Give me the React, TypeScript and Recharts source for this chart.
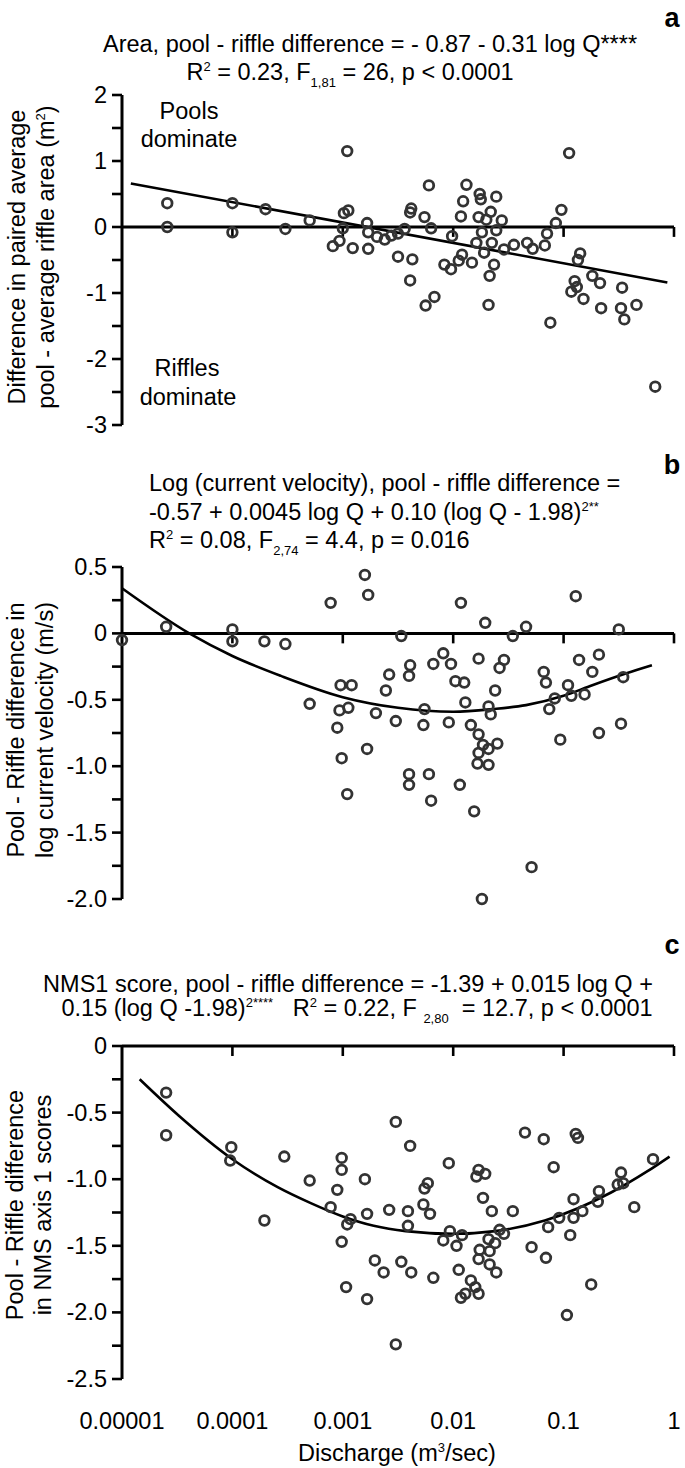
import React from 'react'
import { ComposedChart, Scatter, Line, XAxis, YAxis, ReferenceLine } from 'recharts'

// x values are log10 of discharge Q (m3/sec); the axis prints them as Q
const decadeTicks = [-5, -4, -3, -2, -1, 0]
const decadeLabels = ['0.00001', '0.0001', '0.001', '0.01', '0.1', '1']

// a - area, pool - riffle difference (m2)
const areaLogQ = [
    -4.59, -4.59, -4.0, -4.0, -3.7, -3.52, -3.3, -2.99, -2.95, -3.0,
    -3.03, -3.09, -2.91, -2.78, -2.77, -2.77, -2.96, -2.69, -2.62, -2.56,
    -2.5, -2.5, -2.44, -2.39, -2.38, -2.37, -2.39, -2.22, -2.26, -2.2,
    -2.17, -2.25, -2.08, -2.02, -2.01, -1.95, -1.92, -1.83, -1.93, -1.91,
    -1.88, -1.79, -1.76, -1.75, -1.77, -1.74, -1.7, -1.66, -1.72, -1.65,
    -1.61, -1.61, -1.56, -1.63, -1.67, -1.68, -1.54, -1.45, -1.33, -1.28,
    -1.17, -1.15, -1.07, -1.02, -0.95, -1.12, -0.85, -0.87, -0.9, -0.93,
    -0.88, -0.82, -0.74, -0.67, -0.66, -0.47, -0.48, -0.45, -0.34, -0.17,
]
const areaDiff = [
    0.36, 0.0, 0.36, -0.08, 0.27, -0.03, 0.1, 0.21, 0.25, -0.02,
    -0.21, -0.29, -0.32, 0.06, -0.08, -0.33, 1.15, -0.15, -0.19, -0.13,
    -0.1, -0.45, -0.03, 0.22, 0.28, -0.49, -0.81, 0.63, 0.15, -0.02,
    -1.06, -1.19, -0.57, -0.64, -0.14, -0.51, -0.42, -0.54, 0.16, 0.39,
    0.64, -0.24, 0.5, 0.42, 0.15, -0.08, 0.11, 0.23, -0.39, -0.24,
    0.46, -0.05, 0.1, -0.57, -0.74, -1.18, -0.34, -0.27, -0.24, -0.33,
    -0.28, -0.1, 0.06, 0.26, 1.12, -1.45, -0.4, -0.5, -0.82, -0.98,
    -0.91, -1.09, -0.74, -0.85, -1.23, -0.92, -1.23, -1.4, -1.18, -2.42,
]
const areaFitLogQ = [-4.92, -0.06]
const areaFit = [0.66, -0.84]
const areaTicks = [2, 1.5, 1, 0.5, 0, -0.5, -1, -1.5, -2, -2.5, -3]
const areaTickLabels = ['2', '', '1', '', '0', '', '-1', '', '-2', '', '-3']

// b - log current velocity, pool - riffle difference (m/s)
const veloLogQ = [
    -5.0, -4.6, -4.0, -4.0, -3.71, -3.52, -3.3, -3.11, -2.8, -2.77,
    -3.02, -2.92, -2.61, -2.58, -3.03, -2.95, -3.05, -2.7, -2.52, -2.78,
    -3.01, -2.96, -2.47, -2.39, -2.4, -2.4, -2.4, -2.18, -2.09, -2.02,
    -1.98, -1.9, -1.93, -1.77, -1.71, -1.54, -1.58, -1.62, -1.46, -1.34,
    -1.89, -2.26, -2.27, -2.04, -1.84, -1.68, -1.66, -1.77, -1.73, -1.68,
    -1.6, -1.77, -1.78, -1.68, -2.22, -2.2, -1.94, -1.81, -1.29, -1.18,
    -1.16, -1.08, -1.13, -0.96, -0.93, -0.81, -1.03, -0.86, -0.74, -0.68,
    -0.89, -0.68, -0.5, -0.46, -0.48, -1.74,
]
const veloDiff = [
    -0.05, 0.05, 0.03, -0.06, -0.06, -0.08, -0.53, 0.23, 0.44, 0.29,
    -0.39, -0.39, -0.43, -0.31, -0.58, -0.56, -0.71, -0.6, -0.66, -0.87,
    -0.94, -1.21, -0.02, -0.24, -0.32, -1.06, -1.14, -0.23, -0.15, -0.23,
    -0.36, -0.37, 0.23, -0.19, 0.08, -0.2, -0.26, -0.43, -0.02, 0.05,
    -0.52, -0.57, -0.69, -0.67, -0.69, -0.55, -0.61, -0.76, -0.84, -0.87,
    -0.83, -0.9, -0.98, -0.99, -1.06, -1.26, -1.14, -1.34, -1.76, -0.29,
    -0.37, -0.49, -0.57, -0.39, -0.47, -0.46, -0.8, -0.2, -0.29, -0.16,
    0.28, -0.75, 0.03, -0.33, -0.68, -2.0,
]
const veloFitLogQ = [-5.0, -4.39, -4.0, -3.56, -3.0, -2.5, -2.0, -1.64, -1.34, -1.0, -0.74, -0.43, -0.2]
const veloFit = [0.34, 0.0, -0.17, -0.32, -0.48, -0.56, -0.59, -0.57, -0.54, -0.47, -0.39, -0.3, -0.24]
const veloTicks = [0.5, 0.25, 0, -0.25, -0.5, -0.75, -1, -1.25, -1.5, -1.75, -2]
const veloTickLabels = ['0.5', '', '0', '', '-0.5', '', '-1.0', '', '-1.5', '', '-2.0']

// c - NMS axis 1 score, pool - riffle difference
const nmsLogQ = [
    -4.6, -4.6, -4.01, -4.02, -3.53, -3.71, -3.3, -3.01, -3.01, -3.05,
    -3.11, -2.8, -2.96, -2.93, -2.78, -3.01, -2.71, -2.63, -2.97, -2.78,
    -2.58, -2.52, -2.52, -2.47, -2.39, -2.41, -2.41, -2.38, -2.26, -2.23,
    -2.27, -2.21, -2.18, -2.04, -2.03, -2.09, -1.92, -1.97, -1.95, -1.84,
    -1.93, -1.89, -1.8, -1.77, -1.77, -1.79, -1.71, -1.73, -1.65, -1.46,
    -1.76, -1.77, -1.68, -1.67, -1.62, -1.67, -1.61, -1.58, -1.54, -1.35,
    -1.18, -1.09, -1.29, -1.16, -1.14, -1.04, -0.94, -0.91, -0.91, -0.83,
    -0.89, -0.87, -0.75, -0.97, -0.68, -0.69, -0.48, -0.51, -0.46, -0.36,
    -0.19,
]
const nmsDiff = [
    -0.35, -0.67, -0.76, -0.86, -0.83, -1.31, -1.01, -0.84, -0.93, -1.08,
    -1.21, -1.0, -1.34, -1.3, -1.26, -1.47, -1.61, -1.7, -1.81, -1.9,
    -1.23, -0.57, -2.24, -1.62, -0.75, -1.24, -1.35, -1.7, -1.07, -1.03,
    -1.19, -1.26, -1.74, -0.88, -1.39, -1.46, -1.42, -1.5, -1.68, -1.76,
    -1.89, -1.86, -1.81, -1.86, -0.93, -0.98, -0.96, -1.14, -1.24, -1.24,
    -1.53, -1.6, -1.45, -1.54, -1.48, -1.64, -1.7, -1.38, -1.41, -0.65,
    -0.7, -0.91, -1.51, -1.59, -1.36, -1.29, -1.42, -1.15, -1.29, -1.24,
    -0.66, -0.69, -1.79, -2.02, -1.09, -1.17, -0.95, -1.04, -1.03, -1.21,
    -0.85,
]
const nmsFitLogQ = [-4.84, -4.49, -4.0, -3.59, -3.29, -3.0, -2.72, -2.43, -2.0, -1.62, -1.17, -0.57, -0.24, -0.04]
const nmsFit = [-0.25, -0.52, -0.85, -1.06, -1.18, -1.28, -1.35, -1.39, -1.41, -1.39, -1.31, -1.1, -0.94, -0.83]
const nmsTicks = [0, -0.25, -0.5, -0.75, -1, -1.25, -1.5, -1.75, -2, -2.25, -2.5]
const nmsTickLabels = ['0', '', '-0.5', '', '-1.0', '', '-1.5', '', '-2.0', '', '-2.5']

const FONT = '"Liberation Sans", Arial, Helvetica, sans-serif'
const FS = 23.5
const W = 685

const zip = (xs: number[], ys: number[]) => xs.map((x, i) => ({ x, y: ys[i] }))

const Ring = (props: any) => (
    <circle cx={props.cx} cy={props.cy} r={4.8} fill="none" stroke="#333" strokeWidth={2.8} />
)

const yTick = (ticks: number[], labels: string[]) => (props: any) => {
    const { x, y, payload } = props
    const i = ticks.indexOf(payload.value)
    const label = i >= 0 ? labels[i] : ''
    if (!label) return <g />
    return (
        <text x={x - 3} y={y} textAnchor="end" dominantBaseline="central" fontFamily={FONT} fontSize={FS} fill="#000">
            {label}
        </text>
    )
}

const xTick = (props: any) => {
    const { x, y, payload } = props
    const i = decadeTicks.indexOf(payload.value)
    return (
        <text x={x} y={y + 42} textAnchor="middle" dominantBaseline="central" fontFamily={FONT} fontSize={FS} fill="#000">
            {decadeLabels[i]}
        </text>
    )
}

interface PanelProps {
    top: number
    height: number
    margin: { top: number; right: number; bottom: number; left: number }
    points: { x: number; y: number }[]
    fit: { x: number; y: number }[]
    domain: [number, number]
    ticks: number[]
    labels: string[]
    tickLen: number
    bottomLabels?: boolean
}

function Panel({ top, height, margin, points, fit, domain, ticks, labels, tickLen, bottomLabels }: PanelProps) {
    return (
        <div style={{ position: 'absolute', left: 0, top }}>
            <ComposedChart width={W} height={height} margin={margin}>
                {bottomLabels ? (
                    <XAxis type="number" dataKey="x" domain={[-5, 0]} ticks={decadeTicks} interval={0}
                        axisLine={false} tickLine={false} tickSize={0} tickMargin={0} height={60} tick={xTick} />
                ) : (
                    <XAxis type="number" dataKey="x" domain={[-5, 0]} hide />
                )}
                <YAxis type="number" dataKey="y" domain={domain} ticks={ticks} interval={0} width={122}
                    tickSize={10}
                    axisLine={{ stroke: '#000', strokeWidth: 3 }}
                    tickLine={{ stroke: '#000', strokeWidth: 2.6 }}
                    tick={yTick(ticks, labels)} />
                <ReferenceLine y={0} stroke="#000" strokeWidth={3} />
                {decadeTicks.slice(1).map((d) => (
                    <ReferenceLine key={d} segment={[{ x: d, y: 0 }, { x: d, y: -tickLen }]} stroke="#000" strokeWidth={2.6} />
                ))}
                <Line data={fit} dataKey="y" type="monotoneX" stroke="#000" strokeWidth={2.6} dot={false}
                    activeDot={false} isAnimationActive={false} />
                <Scatter data={points} dataKey="y" shape={Ring} isAnimationActive={false} />
            </ComposedChart>
        </div>
    )
}

const txt: React.CSSProperties = {
    position: 'absolute', fontFamily: FONT, fontSize: FS, color: '#000',
    whiteSpace: 'pre', lineHeight: 'normal',
}
const sub: React.CSSProperties = { fontSize: 13, position: 'relative', top: 7 }
const sup: React.CSSProperties = { fontSize: 13, position: 'relative', top: -9 }

function C({ x, y, children, bold, size }: { x: number; y: number; children: React.ReactNode; bold?: boolean; size?: number }) {
    return (
        <div style={{ ...txt, left: x, top: y, transform: 'translate(-50%, -50%)', fontWeight: bold ? 700 : 400, fontSize: size ?? FS }}>
            {children}
        </div>
    )
}

function L({ x, y, children }: { x: number; y: number; children: React.ReactNode }) {
    return <div style={{ ...txt, left: x, top: y, transform: 'translateY(-50%)' }}>{children}</div>
}

function V({ x, y, children }: { x: number; y: number; children: React.ReactNode }) {
    return (
        <div style={{ ...txt, left: x, top: y, transform: 'translate(-50%, -50%) rotate(-90deg)' }}>{children}</div>
    )
}

export default function App() {
    return (
        <div style={{ position: 'absolute', left: 0, top: 0, width: W, height: 1468, background: '#fff', overflow: 'hidden' }}>
            <Panel top={0} height={440} margin={{ top: 95, right: 11, bottom: 15, left: 0 }}
                points={zip(areaLogQ, areaDiff)} fit={zip(areaFitLogQ, areaFit)}
                domain={[-3, 2]} ticks={areaTicks} labels={areaTickLabels} tickLen={0.15} />
            <Panel top={440} height={490} margin={{ top: 127, right: 11, bottom: 31, left: 0 }}
                points={zip(veloLogQ, veloDiff)} fit={zip(veloFitLogQ, veloFit)}
                domain={[-2, 0.5]} ticks={veloTicks} labels={veloTickLabels} tickLen={0.075} />
            <Panel top={910} height={558} margin={{ top: 136, right: 11, bottom: 29, left: 0 }}
                points={zip(nmsLogQ, nmsDiff)} fit={zip(nmsFitLogQ, nmsFit)}
                domain={[-2.5, 0]} ticks={nmsTicks} labels={nmsTickLabels} tickLen={0.075} bottomLabels />

            <C x={672} y={18} bold size={27}>a</C>
            <C x={370} y={44}>Area, pool - riffle difference = - 0.87 - 0.31 log Q****</C>
            <C x={350} y={72}>R<span style={sup}>2</span> = 0.23, F<span style={sub}>1,81</span> = 26, p &lt; 0.0001</C>
            <C x={189} y={111}>Pools</C>
            <C x={189} y={139}>dominate</C>
            <C x={187} y={368}>Riffles</C>
            <C x={188} y={397}>dominate</C>
            <V x={17} y={257}>Difference in paired average</V>
            <V x={46} y={257}>pool - average riffle area (m<span style={sup}>2</span>)</V>

            <C x={672} y={465} bold size={27}>b</C>
            <L x={149} y={483}>Log (current velocity), pool - riffle difference =</L>
            <L x={149} y={512}>-0.57 + 0.0045 log Q + 0.10 (log Q - 1.98)<span style={sup}>2**</span></L>
            <L x={149} y={540}>R<span style={sup}>2</span> = 0.08, F<span style={sub}>2,74</span> = 4.4, p = 0.016</L>
            <V x={16} y={730}>Pool - Riffle difference in</V>
            <V x={45} y={730}>log current velocity (m/s)</V>

            <C x={672} y={945} bold size={27}>c</C>
            <C x={348} y={984}>NMS1 score, pool - riffle difference = -1.39 + 0.015 log Q +</C>
            <C x={357} y={1008}>0.15 (log Q -1.98)<span style={sup}>2****</span>   R<span style={sup}>2</span> = 0.22, F <span style={sub}>2,80</span>  = 12.7, p &lt; 0.0001</C>
            <V x={15} y={1205}>Pool - Riffle difference</V>
            <V x={43} y={1205}>in NMS axis 1 scores</V>
            <C x={397} y={1453}>Discharge (m<span style={sup}>3</span>/sec)</C>
        </div>
    )
}
